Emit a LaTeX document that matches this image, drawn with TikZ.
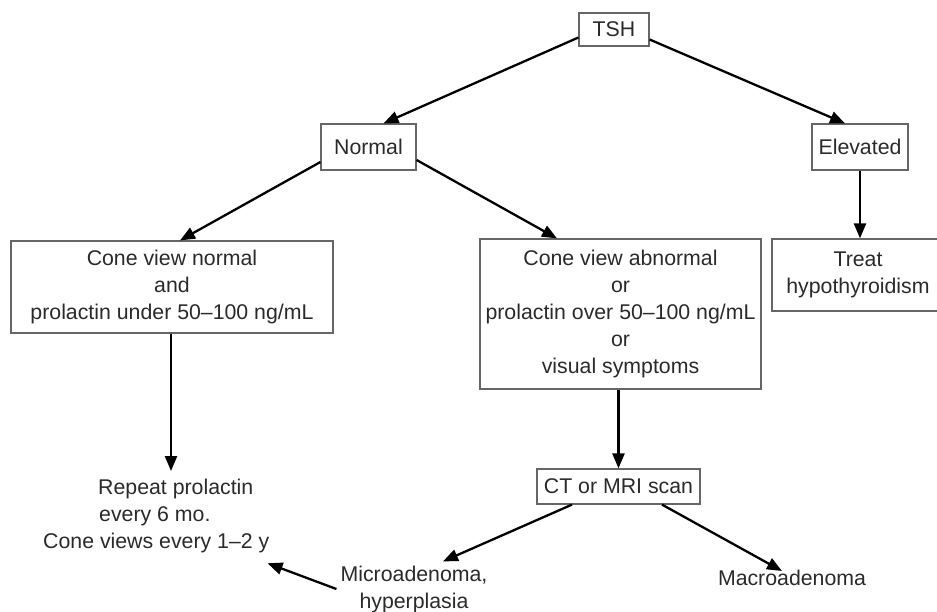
\documentclass[tikz,border=0pt]{standalone}
\usepackage{fontspec}
\setmainfont{Liberation Sans}
\usetikzlibrary{arrows.meta,calc}
\definecolor{txt}{HTML}{2A2A2A}
\definecolor{boxline}{HTML}{666666}
\tikzset{
  every node/.style={font=\fontsize{21.3}{27}\selectfont, text=txt, inner sep=0pt, align=center},
  box/.style={draw=boxline, line width=1.2pt, rectangle},
  conn/.style={draw=black, line width=2.3pt, -{Triangle[length=15pt,width=12pt]}},
}
\begin{document}
\begin{tikzpicture}[x=1pt,y=-1pt]
\useasboundingbox (0,0) rectangle (937,611);
\clip (0,0) rectangle (937,611);
\node[box, minimum width=70pt, minimum height=33pt] (tsh) at (614,29.5) {TSH};
\node[box, minimum width=95pt, minimum height=46pt] (normal) at (368.5,147) {Normal};
\node[box, minimum width=96pt, minimum height=46pt] (elev) at (860,147) {Elevated};
\node[box, minimum width=322pt, minimum height=92pt] (cvn) at (172,287) {Cone view normal\\and\\prolactin under 50--100 ng/mL};
\node[box, minimum width=281pt, minimum height=150pt] (cva) at (620.5,314) {Cone view abnormal\\or\\prolactin over 50--100 ng/mL\\or\\visual symptoms};
\node[box, minimum width=172pt, minimum height=72pt] (treat) at (858,275) {Treat\\hypothyroidism};
\node[box, minimum width=163pt, minimum height=35pt] (ct) at (618.5,486.5) {CT or MRI scan};
\node[align=left, anchor=north west] (rep) at (43,479) {\hspace*{55pt}Repeat prolactin\\\hspace*{56pt}every 6 mo.\\Cone views every 1--2 y};
\node (micro) at (414,589) {Microadenoma,\\hyperplasia};
\node (macro) at (792,578) {Macroadenoma};

\draw[conn] ([yshift=-8pt]tsh.west) -- ([xshift=15pt]normal.north);
\draw[conn] ([yshift=-10pt]tsh.east) -- ([xshift=-15pt]elev.north);
\draw[conn] ([yshift=-15pt]normal.west) -- ([xshift=8pt]cvn.north);
\draw[conn] ([yshift=-13pt]normal.east) -- ([xshift=-63.5pt]cva.north);
\draw[conn] (elev.south) -- (elev.south |- treat.north);
\draw[conn] ([xshift=-1pt]cvn.south) -- ([xshift=-1pt,yshift=8pt]cvn.south |- rep.north);
\draw[conn] (ct.north |- cva.south) -- (ct.north);
\draw[conn] ([xshift=-46.5pt]ct.south) -- ([xshift=29pt,yshift=4pt]micro.north);
\draw[conn] ([xshift=43.5pt]ct.south) -- ([xshift=-10pt,yshift=-1pt]macro.north);
\draw[conn] ([xshift=-4pt,yshift=0pt]micro.west) -- ([xshift=-2pt,yshift=-10pt]rep.south east);
\end{tikzpicture}
\end{document}
